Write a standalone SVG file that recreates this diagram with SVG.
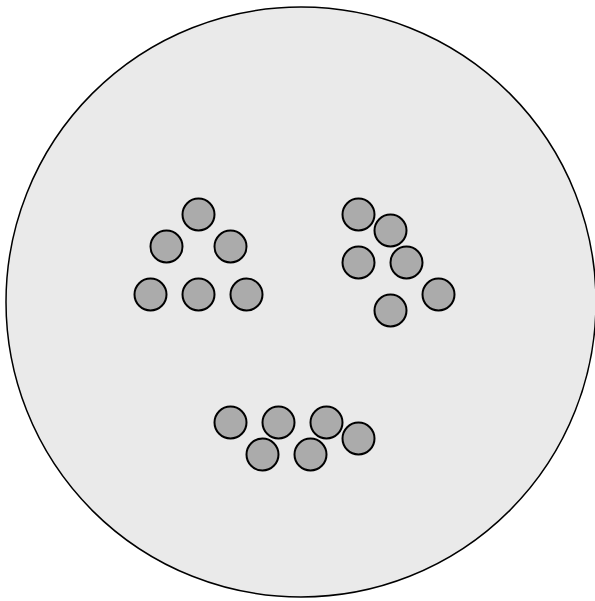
<svg xmlns="http://www.w3.org/2000/svg" width="595" height="601" viewBox="0 0 595 601">
<style>
.big{fill:#eaeaea;stroke:#000;stroke-width:1.5}
.dot{fill:#ababab;stroke:#000;stroke-width:2}
</style>
<rect width="595" height="601" fill="#fff"/>
<g id="plate"><circle class="big" cx="301" cy="302" r="295"/></g>
<g id="group-left">
<circle class="dot" cx="198.5" cy="214.5" r="16"/>
<circle class="dot" cx="166.5" cy="246.5" r="16"/>
<circle class="dot" cx="230.5" cy="246.5" r="16"/>
<circle class="dot" cx="150.5" cy="294.5" r="16"/>
<circle class="dot" cx="198.5" cy="294.5" r="16"/>
<circle class="dot" cx="246.5" cy="294.5" r="16"/>
</g>
<g id="group-right">
<circle class="dot" cx="358.5" cy="214.5" r="16"/>
<circle class="dot" cx="390.5" cy="230.5" r="16"/>
<circle class="dot" cx="358.5" cy="262.5" r="16"/>
<circle class="dot" cx="406.5" cy="262.5" r="16"/>
<circle class="dot" cx="438.5" cy="294.5" r="16"/>
<circle class="dot" cx="390.5" cy="310.5" r="16"/>
</g>
<g id="group-bottom">
<circle class="dot" cx="230.5" cy="422.5" r="16"/>
<circle class="dot" cx="278.5" cy="422.5" r="16"/>
<circle class="dot" cx="326.5" cy="422.5" r="16"/>
<circle class="dot" cx="358.5" cy="438.5" r="16"/>
<circle class="dot" cx="262.5" cy="454.5" r="16"/>
<circle class="dot" cx="310.5" cy="454.5" r="16"/>
</g>
<g id="connectors"/>
</svg>
